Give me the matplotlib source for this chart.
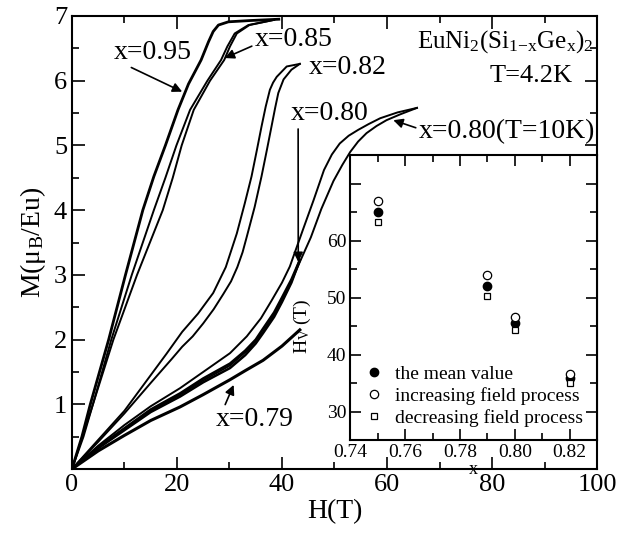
import matplotlib
matplotlib.use("Agg")
import matplotlib.pyplot as plt

plt.rcParams["font.family"] = ["Liberation Serif", "DejaVu Serif"]
plt.rcParams["mathtext.fontset"] = "custom"
plt.rcParams["mathtext.rm"] = "Liberation Serif"
plt.rcParams["mathtext.it"] = "Liberation Serif:italic"

# M(H) curves (H in T, M in mu_B/Eu)
h_095 = [0, 1.9, 3.5, 7.0, 10.2, 13.5, 15.6, 17.8, 20.2, 22.2, 23.5, 24.6, 25.4, 26.0, 26.9, 27.9, 29.8, 34, 39.4]
m_095 = [0, 0.5, 1.0, 2.0, 3.0, 4.0, 4.52, 5.0, 5.55, 5.95, 6.15, 6.32, 6.48, 6.6, 6.76, 6.86, 6.91, 6.93, 6.95]

m_085 = [0, 0.5, 1.0, 2.0, 3.0, 4.0, 4.5, 5.0, 5.55, 6.0, 6.32, 6.53, 6.73, 6.86, 6.94]
h_085_up = [0, 2.2, 4.0, 7.9, 12.4, 17.3, 19.2, 20.9, 23.2, 26.3, 29.0, 30.1, 31.4, 33.8, 38.5]
h_085_dn = [0, 2.0, 4.0, 7.5, 11.4, 15.6, 17.8, 19.9, 22.5, 25.8, 28.4, 29.6, 31.0, 33.6, 38.5]

h_082_up = [0, 5, 10, 15, 19, 21, 23, 25, 27, 28.8, 30.3, 31.5, 32.5, 33.3, 34.8, 36.1, 37.1, 38.0, 38.7, 39.3, 40.3, 41.8, 43.4]
m_082_up = [0, 0.42, 0.86, 1.33, 1.7, 1.89, 2.05, 2.25, 2.47, 2.7, 2.9, 3.12, 3.35, 3.59, 4.05, 4.52, 4.92, 5.29, 5.58, 5.81, 6.02, 6.17, 6.26]
h_082_dn = [0, 5, 10, 15, 18, 21, 24, 26.9, 29.3, 31.4, 32.9, 34.2, 35.2, 36.1, 36.9, 37.7, 38.3, 39.0, 40.9, 43.4]
m_082_dn = [0, 0.45, 0.9, 1.45, 1.78, 2.12, 2.4, 2.72, 3.12, 3.64, 4.1, 4.52, 4.92, 5.29, 5.6, 5.86, 5.97, 6.06, 6.22, 6.26]

h_080 = [0, 5, 10, 15, 20.6, 25, 30.1, 33, 35, 36.4, 38.5, 40, 41.8, 43.4]
m_080_up = [0, 0.32, 0.6, 0.88, 1.12, 1.34, 1.56, 1.76, 1.94, 2.1, 2.35, 2.58, 2.88, 3.23]
m_080_dn = [0, 0.34, 0.63, 0.92, 1.17, 1.4, 1.63, 1.83, 2.0, 2.17, 2.42, 2.65, 2.93, 3.23]

h_080k_up = [0, 5, 10, 15, 20.6, 25, 30.1, 33.5, 36.4, 38.5, 40, 41.8, 43.4, 45.5, 47.5, 49.8, 51.5, 53, 54.5, 56.1, 58, 59.9, 62.5, 65.7]
m_080k_up = [0, 0.33, 0.62, 0.9, 1.15, 1.37, 1.6, 1.84, 2.12, 2.38, 2.6, 2.9, 3.2, 3.58, 4.02, 4.45, 4.7, 4.9, 5.06, 5.19, 5.3, 5.39, 5.48, 5.58]
h_080k_dn = [0, 5, 10, 15, 20.6, 25, 30.1, 33.3, 36, 38, 40, 41.5, 44, 46, 48, 49.5, 51, 52.7, 54.5, 56.5, 58.7, 62, 65.7]
m_080k_dn = [0, 0.36, 0.68, 0.97, 1.25, 1.5, 1.79, 2.05, 2.33, 2.6, 2.88, 3.13, 3.7, 4.15, 4.62, 4.86, 5.03, 5.15, 5.24, 5.33, 5.42, 5.51, 5.58]

h_079 = [0, 5, 10, 15, 20.6, 25, 30.1, 33, 36.4, 40, 43.4]
m_079 = [0, 0.28, 0.52, 0.75, 0.96, 1.15, 1.38, 1.52, 1.68, 1.9, 2.15]

# inset: critical field vs x
x_inset = [0.75, 0.79, 0.80, 0.82]
hv_mean = [65.1, 52.1, 45.6, 36.0]
hv_inc = [67.0, 53.9, 46.7, 36.7]
hv_dec = [63.2, 50.3, 44.4, 35.0]

fig = plt.figure(figsize=(6.2, 5.33), dpi=100)
ax = fig.add_axes([0.116, 0.12, 0.847, 0.85])

ax.plot(h_095, m_095, color="black", lw=2.0)
ax.plot(h_085_up, m_085, color="black", lw=1.4)
ax.plot(h_085_dn, m_085, color="black", lw=1.4)
ax.plot(h_082_up, m_082_up, color="black", lw=1.4)
ax.plot(h_082_dn, m_082_dn, color="black", lw=1.4)
ax.plot(h_080k_up, m_080k_up, color="black", lw=1.4)
ax.plot(h_080k_dn, m_080k_dn, color="black", lw=1.4)
ax.plot(h_080, m_080_up, color="black", lw=1.8)
ax.plot(h_080, m_080_dn, color="black", lw=1.8)
ax.plot(h_079, m_079, color="black", lw=2.2)

ax.set_xlim(0, 100)
ax.set_ylim(0, 7)
ax.set_xticks([0, 20, 40, 60, 80, 100])
ax.set_xticks(range(10, 100, 20), minor=True)
ax.set_yticks(range(0, 8))
ax.set_yticklabels([""] + [str(i) for i in range(1, 8)])
ax.set_yticks([i + 0.5 for i in range(7)], minor=True)
ax.tick_params(which="both", direction="in", top=True, right=True, labelsize=19, width=1.2)
ax.tick_params(which="major", length=9)
ax.tick_params(which="minor", length=5)
for s in ax.spines.values():
    s.set_linewidth(1.5)
ax.set_xlabel("H(T)", fontsize=20, labelpad=2)
ax.set_ylabel(r"M(μ$_\mathrm{B}$/Eu)", fontsize=20, labelpad=4)

arrow = dict(arrowstyle="-|>", color="black", lw=1.2, mutation_scale=14, shrinkA=0, shrinkB=0)
ax.annotate("x=0.95", xy=(21, 5.83), xytext=(15.4, 6.44), fontsize=20,
            ha="center", va="center", arrowprops=dict(arrow, relpos=(0.15, 0.0)))
ax.annotate("x=0.85", xy=(29.1, 6.35), xytext=(42.2, 6.63), fontsize=20,
            ha="center", va="center", arrowprops=dict(arrow, relpos=(0.0, 0.3)))
ax.text(52.5, 6.2, "x=0.82", fontsize=20, ha="center", va="center")
ax.annotate("x=0.80", xy=(43.1, 3.2), xytext=(49.0, 5.49), fontsize=20,
            ha="center", va="center", arrowprops=dict(arrow, relpos=(0.1, 0.0)))
ax.annotate("x=0.80(T=10K)", xy=(61.2, 5.39), xytext=(82.8, 5.22), fontsize=20,
            ha="center", va="center", arrowprops=dict(arrow, relpos=(0.0, 0.6)))
ax.annotate("x=0.79", xy=(30.8, 1.3), xytext=(34.9, 0.76), fontsize=20,
            ha="center", va="center", arrowprops=dict(arrow, relpos=(0.1, 1.0)))
ax.text(99.3, 6.6, r"EuNi$_2$(Si$_{1\mathrm{-x}}$Ge$_\mathrm{x}$)$_2$", fontsize=18,
        ha="right", va="center")
ax.text(87.5, 6.07, "T=4.2K", fontsize=19, ha="center", va="center")

# inset
ins = fig.add_axes([0.565, 0.174, 0.398, 0.535])
ins.plot(x_inset, hv_mean, "o", color="black", ms=6, label="the mean value")
ins.plot(x_inset, hv_inc, "o", mfc="white", mec="black", mew=0.9, ms=6,
         label="increasing field process")
ins.plot(x_inset, hv_dec, "s", mfc="white", mec="black", mew=0.9, ms=4.5,
         label="decreasing field process")
ins.set_xlim(0.74, 0.83)
ins.set_ylim(25, 75)
ins.set_xticks([0.74, 0.76, 0.78, 0.80, 0.82])
ins.set_xticklabels(["0.74", "0.76", "0.78", "0.80", "0.82"])
ins.set_xticks([0.75, 0.77, 0.79, 0.81], minor=True)
ins.set_yticks([30, 40, 50, 60, 70])
ins.set_yticklabels(["30", "40", "50", "60", ""])
ins.set_yticks([35, 45, 55, 65], minor=True)
ins.tick_params(which="both", direction="in", top=True, right=True, labelsize=14, width=1.2, pad=3)
ins.tick_params(which="major", length=8)
ins.tick_params(which="minor", length=5)
for s in ins.spines.values():
    s.set_linewidth(1.5)
ins.set_xlabel("x", fontsize=13, labelpad=0)
ins.set_ylabel(r"H$_\mathrm{V}$ (T)", fontsize=14)
ins.yaxis.set_label_coords(-0.15, 0.4)
ins.legend(loc="lower left", bbox_to_anchor=(0.0, 0.0), frameon=False, fontsize=14,
           handlelength=1.0, handletextpad=0.6, labelspacing=0.2, borderaxespad=0.3)

fig.savefig("out.png", dpi=100)
